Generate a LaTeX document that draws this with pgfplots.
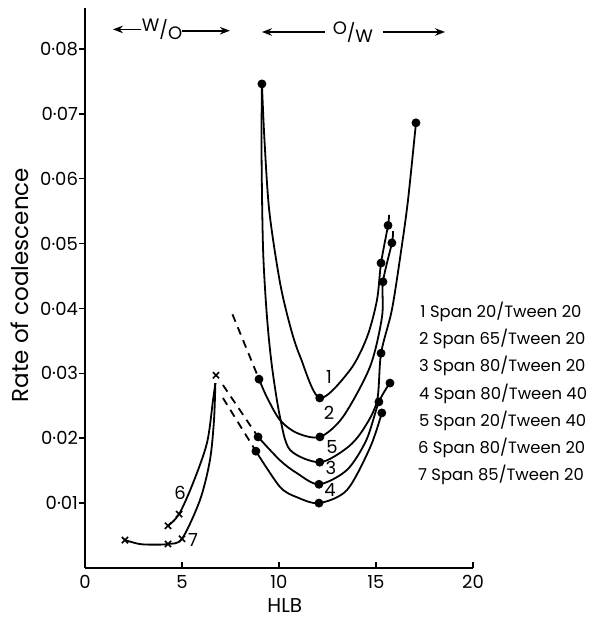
\documentclass[border=0pt]{standalone}
\usepackage{fontspec}
\setmainfont{Poppins}
\usepackage{pgfplots}
\pgfplotsset{compat=1.18}
\usetikzlibrary{arrows.meta}

\begin{document}
\begin{tikzpicture}[font=\fontsize{9}{11}\selectfont,
    legtext/.style={anchor=west, inner sep=0pt, font=\fontsize{8.2}{10}\selectfont}]
\begin{axis}[
    at={(0,0)}, anchor=south west,
    scale only axis,
    width=194pt, height=280pt,
    xmin=0, xmax=20, ymin=0, ymax=0.0863,
    axis x line=bottom, axis y line=left,
    axis line style={-, line width=0.9pt},
    clip=false,
    xtick={0,5,10,15,20}, xticklabels={0,5,10,15,20},
    ytick={0.01,0.02,0.03,0.04,0.05,0.06,0.07,0.08},
    yticklabels={0·01,0·02,0·03,0·04,0·05,0·06,0·07,0·08},
    xtick align=inside, ytick align=outside,
    major tick length=3pt,
    tick style={line width=0.8pt, black},
    every tick label/.append style={font=\fontsize{9}{11}\selectfont},
    yticklabel style={xshift=3pt},
    curve/.style={black, line width=0.9pt, smooth, tension=0.5, no marks},
    dcurve/.style={black, line width=0.9pt, dashed, dash pattern=on 4pt off 3pt, no marks},
]

% curve 1
\addplot[curve] coordinates {
    (9.12,0.0746) (9.25,0.066) (9.5,0.055) (10.05,0.044) (10.6,0.037)
    (11.1,0.0325) (12.1,0.0262) (13.66,0.0305) (14.54,0.0356)
    (15.05,0.0413) (15.26,0.047) (15.62,0.0528) (15.67,0.0544)
};
% curve 5
\addplot[curve] coordinates {
    (9.12,0.0746) (9.1,0.064) (9.18,0.049) (9.38,0.0387) (9.64,0.031)
    (10.05,0.0233) (10.57,0.0182) (12.1,0.0163) (13.5,0.0185)
    (14.33,0.0213) (15.05,0.0257) (15.26,0.0331) (15.82,0.0398)
    (16.3,0.049) (16.65,0.0567) (17.06,0.0686)
};
% curve 2
\addplot[dcurve] coordinates {(7.6,0.0391) (8.97,0.0291)};
\addplot[curve] coordinates {
    (8.97,0.0291) (9.38,0.0263) (10.05,0.0228) (10.93,0.0208) (12.11,0.0202)
    (13.3,0.0233) (14.69,0.031) (15.31,0.0387) (15.36,0.0441)
    (15.82,0.0501) (15.88,0.0519)
};
% curve 3
\addplot[dcurve] coordinates {(7.11,0.0282) (8.92,0.0202)};
\addplot[curve] coordinates {
    (8.92,0.0202) (10.05,0.0166) (10.93,0.0146) (12.06,0.0129)
    (13.5,0.0151) (14.5,0.0197) (15.15,0.0256) (15.72,0.0285)
};
% curve 4
\addplot[dcurve] coordinates {(7.11,0.0262) (8.81,0.018)};
\addplot[curve] coordinates {
    (8.81,0.018) (10.05,0.0125) (10.93,0.0109) (12.06,0.0100)
    (13.5,0.012) (14.7,0.0186) (15.3,0.0239)
};
% curve 6
\addplot[curve] coordinates {
    (4.28,0.0065) (4.85,0.0083) (5.57,0.0131) (6.29,0.0193) (6.6,0.0259) (6.72,0.0285)
};
% curve 7
\addplot[curve] coordinates {
    (2.06,0.0043) (2.8,0.0037) (3.5,0.0036) (4.28,0.0037) (5.0,0.0045)
    (5.93,0.0105) (6.44,0.0166) (6.65,0.0228) (6.72,0.0285)
};

% filled points
\addplot[only marks, mark=*, mark size=2pt, black] coordinates {
    (9.12,0.0746) (8.97,0.0291) (8.92,0.0202) (8.81,0.018)
    (12.1,0.0262) (12.11,0.0202) (12.1,0.0163) (12.06,0.0129) (12.06,0.0100)
    (15.26,0.047) (15.62,0.0528) (15.36,0.0441) (15.82,0.0501)
    (15.26,0.0331) (17.06,0.0686) (15.15,0.0256) (15.72,0.0285) (15.3,0.0239)
};
% crosses
\addplot[only marks, mark=x, mark size=2.2pt, black, line width=0.8pt] coordinates {
    (2.06,0.0043) (4.28,0.0037) (5.0,0.0045) (4.28,0.0065) (4.85,0.0083) (6.75,0.0297)
};

% curve numbers
\node at (axis cs:12.58,0.0294) {1};
\node at (axis cs:12.58,0.0239) {2};
\node at (axis cs:12.73,0.0186) {5};
\node at (axis cs:12.68,0.0154) {3};
\node at (axis cs:12.63,0.0120) {4};
\node at (axis cs:4.9,0.0116) {6};
\node at (axis cs:5.57,0.0043) {7};

% legend text
\node[legtext] at (axis cs:17.27,0.0394) {1 Span 20/Tween 20};
\node[legtext] at (axis cs:17.2,0.0353) {2 Span 65/Tween 20};
\node[legtext] at (axis cs:17.2,0.0311) {3 Span 80/Tween 20};
\node[legtext] at (axis cs:17.2,0.0268) {4 Span 80/Tween 40};
\node[legtext] at (axis cs:17.2,0.0227) {5 Span 20/Tween 40};
\node[legtext] at (axis cs:17.15,0.0185) {6 Span 80/Tween 20};
\node[legtext] at (axis cs:17.15,0.0143) {7 Span 85/Tween 20};

% W/O and O/W regions
\node at (axis cs:3.97,0.0830) {\raisebox{2.5pt}{W}/\raisebox{-1.5pt}{O}};
\draw[-{Stealth[length=5pt]}, line width=0.8pt] (axis cs:2.9,0.0830) -- (axis cs:1.44,0.0830);
\draw[-{Stealth[length=5pt]}, line width=0.8pt] (axis cs:5.0,0.0828) -- (axis cs:7.47,0.0828);
\node at (axis cs:13.81,0.0826) {\raisebox{2.5pt}{O}/\raisebox{-1.5pt}{W}};
\draw[-{Stealth[length=5pt]}, line width=0.8pt] (axis cs:12.35,0.0826) -- (axis cs:9.12,0.0826);
\draw[-{Stealth[length=5pt]}, line width=0.8pt] (axis cs:15.35,0.0826) -- (axis cs:18.56,0.0826);

% axis titles
\node[rotate=90, font=\fontsize{11.5}{13}\selectfont] at (axis cs:-3.35,0.0436) {Rate of coalescence};
\node[font=\fontsize{10}{12}\selectfont] at (axis cs:10.3,-0.0058) {HLB};
\end{axis}
\pgfresetboundingbox
\path[use as bounding box] (-42.5pt,-25.5pt) rectangle (257pt,284pt);
\end{tikzpicture}
\end{document}
